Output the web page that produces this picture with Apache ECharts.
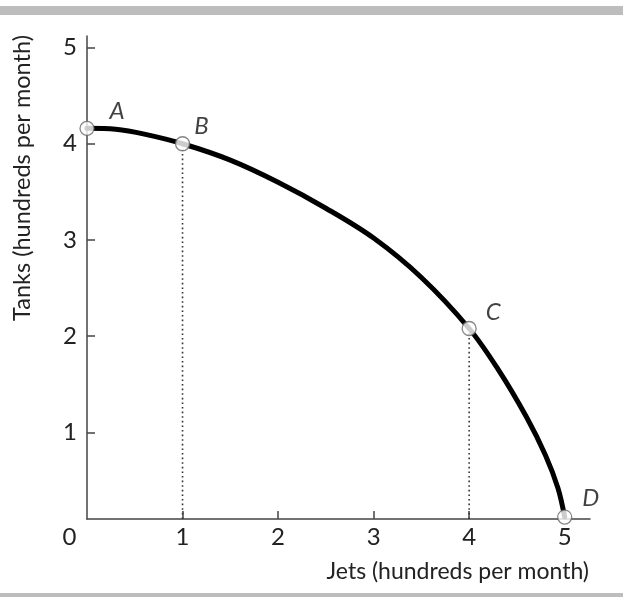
<!DOCTYPE html>
<html>
<head>
<meta charset="utf-8">
<script src="https://cdn.jsdelivr.net/npm/echarts@6/dist/echarts.min.js"></script>
<style>
html,body{margin:0;padding:0;background:#fff;}
#c{width:623px;height:597px;}
</style>
</head>
<body>
<div id="c"></div>
<script>
// ---- data ----
var curveJets  = [0, 0.3, 0.6, 1, 1.5, 2, 2.5, 3, 3.5, 4, 4.3, 4.6, 4.8, 4.93, 5];
var curveTanks = [4.16, 4.15, 4.1, 4.0, 3.83, 3.6, 3.33, 3.02, 2.61, 2.08, 1.66, 1.16, 0.76, 0.42, 0.12];
var pointNames = ['A', 'B', 'C', 'D'];
var pointJets  = [0, 1, 4, 5];
var pointTanks = [4.16, 4.0, 2.08, 0.12];
var dropJets   = [1, 4];          // dotted guide lines from B and C
var dropTop    = [4.0, 2.08];
var axisBase   = 0.1;             // level of the jets axis
var xTicks     = [0, 1, 2, 3, 4, 5];
var yTicks     = [1, 2, 3, 4, 5];
var xTitle = 'Jets (hundreds per month)';
var yTitle = 'Tanks (hundreds per month)';

// ---- styles ----
var FONT = 'Lato';
var TICK_FS = 24;
var labelOffsets = [[30, -17], [19, -17], [24, -16], [26, -19]];

var chart = echarts.init(document.getElementById('c'), null, {renderer: 'canvas'});

var series = [];
series.push({
  type: 'line',
  data: curveJets.map(function (x, i) { return [x, curveTanks[i]]; }),
  smooth: 0.35,
  showSymbol: false,
  lineStyle: {color: '#000', width: 5, cap: 'round'},
  z: 3,
  silent: true
});
dropJets.forEach(function (x, i) {
  series.push({
    type: 'line',
    data: [[x, axisBase], [x, dropTop[i]]],
    showSymbol: false,
    lineStyle: {color: '#333', width: 1.6, type: [1.6, 3]},
    z: 2,
    silent: true
  });
});
series.push({
  type: 'scatter',
  data: pointJets.map(function (x, i) {
    return {
      value: [x, pointTanks[i]],
      name: pointNames[i],
      label: {offset: labelOffsets[i]}
    };
  }),
  symbol: 'circle',
  symbolSize: 14,
  itemStyle: {color: '#fff', borderColor: '#666', borderWidth: 1.3},
  label: {
    show: true,
    position: 'inside',
    formatter: '{p|{b}}',
    rich: {p: {color: '#111', fontFamily: FONT, fontStyle: 'italic', fontSize: 24}}
  },
  z: 5,
  silent: true
});

chart.setOption({
  animation: false,
  backgroundColor: '#fff',
  grid: {left: 87, right: 33, top: 36, bottom: 78},
  xAxis: {
    type: 'value',
    min: 0,
    max: 5.265,
    splitLine: {show: false},
    axisLine: {lineStyle: {color: '#444', width: 1.5}},
    axisTick: {show: true, inside: true, length: 8, customValues: xTicks.slice(1),
               lineStyle: {color: '#444', width: 1.5}},
    axisLabel: {
      customValues: xTicks,
      margin: 6,
      formatter: function (v) { return v === 0 ? '{z|0}' : '{n|' + v + '}'; },
      rich: {
        n: {fontFamily: FONT, fontSize: TICK_FS, color: '#222'},
        z: {fontFamily: FONT, fontSize: TICK_FS, color: '#222', padding: [0, 35, 0, 0]}
      }
    }
  },
  yAxis: {
    type: 'value',
    min: axisBase,
    max: 5.12,
    splitLine: {show: false},
    axisLine: {lineStyle: {color: '#444', width: 1.5}},
    axisTick: {show: true, inside: true, length: 8, customValues: yTicks,
               lineStyle: {color: '#444', width: 1.5}},
    axisLabel: {
      customValues: yTicks,
      margin: 10,
      formatter: function (v) { return '{n|' + v + '}'; },
      rich: {n: {fontFamily: FONT, fontSize: TICK_FS, color: '#222'}}
    }
  },
  graphic: [
    {type: 'rect', shape: {x: 0, y: 6, width: 623, height: 9}, style: {fill: '#bdbdbd'}, silent: true},
    {type: 'rect', shape: {x: 0, y: 593, width: 623, height: 4}, style: {fill: '#bdbdbd'}, silent: true},
    {type: 'text', x: 589, y: 572,
     style: {text: xTitle, fontFamily: FONT, fontSize: 23, fill: '#222', align: 'right', verticalAlign: 'middle'}},
    {type: 'text', x: 22, y: 178, rotation: Math.PI / 2,
     style: {text: yTitle, fontFamily: FONT, fontSize: 23.5, fill: '#222', align: 'center', verticalAlign: 'middle'}}
  ],
  series: series
});
</script>
</body>
</html>
